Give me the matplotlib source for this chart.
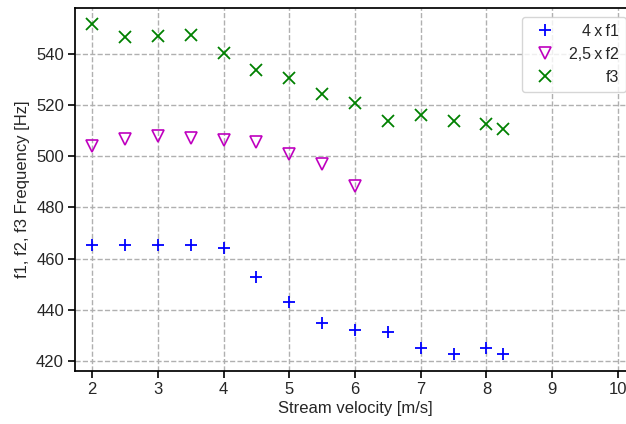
import matplotlib
matplotlib.use("Agg")
import matplotlib.pyplot as plt

# Velocidades medidas
velocity = [2, 2.5, 3, 3.5, 4, 4.5, 5, 5.5, 6, 6.5, 7, 7.5, 8, 8.25]
velocity_f2 = [2, 2.5, 3, 3.5, 4, 4.5, 5, 5.5, 6]

# Frecuencias (ya escaladas)
f1_x4 = [465.2, 465.2, 465.2, 465.2, 464.0, 452.6, 442.8, 434.8, 432.2, 431.3, 425.0, 422.6, 425.0, 422.6]
f2_x25 = [504.0, 506.8, 507.9, 507.2, 506.2, 505.4, 501.0, 497.0, 488.5]
f3 = [551.7, 546.8, 547.2, 547.5, 540.4, 533.8, 530.6, 524.4, 520.9, 513.8, 516.2, 513.8, 512.5, 510.7]

labels = ["4\u2009x\u2009f1", "2,5\u2009x\u2009f2", "f3"]

plt.rcParams["font.family"] = ["Liberation Sans", "DejaVu Sans"]
plt.rcParams["font.size"] = 12
plt.rcParams["text.color"] = "#262626"
plt.rcParams["axes.labelcolor"] = "#262626"
plt.rcParams["xtick.color"] = "#262626"
plt.rcParams["ytick.color"] = "#262626"

fig = plt.figure(figsize=(6.26, 4.24), dpi=100)
ax = fig.add_axes([75 / 626, 53 / 424, 560 / 626, 363 / 424])

ax.plot(velocity, f1_x4, linestyle="none", marker="+", color="blue", markersize=9, markeredgewidth=1.3, label=labels[0])
ax.plot(velocity_f2, f2_x25, linestyle="none", marker="v", color="m", markerfacecolor="none", markersize=9, markeredgewidth=1.2, label=labels[1])
ax.plot(velocity, f3, linestyle="none", marker="x", color="green", markersize=8, markeredgewidth=1.3, label=labels[2])

ax.set_xlim(1.74, 10.26)
ax.set_ylim(416, 558)
ax.set_xticks(range(2, 11))
ax.set_yticks(range(420, 541, 20))
ax.set_xlabel("Stream velocity [m/s]", labelpad=3)
ax.set_ylabel("f1, f2, f3 Frequency [Hz]")
ax.grid(True, linestyle="--", color="#b0b0b0", linewidth=1)
ax.tick_params(direction="out", length=5, width=1.2, colors="#262626", pad=3)
ax.tick_params(axis="both", color="black")
for s in ax.spines.values():
    s.set_color("black")
    s.set_linewidth(1.25)

leg = ax.legend(loc="upper right", fancybox=True, framealpha=0.8, edgecolor="#cccccc", fontsize=11.5,
                handletextpad=0.5, borderaxespad=0.55, labelspacing=0.5, borderpad=0.45)

# Alinear textos de la leyenda a la derecha
fig.canvas.draw()
renderer = fig.canvas.get_renderer()
widths = [t.get_window_extent(renderer).width for t in leg.get_texts()]
wmax = max(widths)
for t, w in zip(leg.get_texts(), widths):
    t.set_x(wmax - w)

fig.savefig("out.png", dpi=100)
